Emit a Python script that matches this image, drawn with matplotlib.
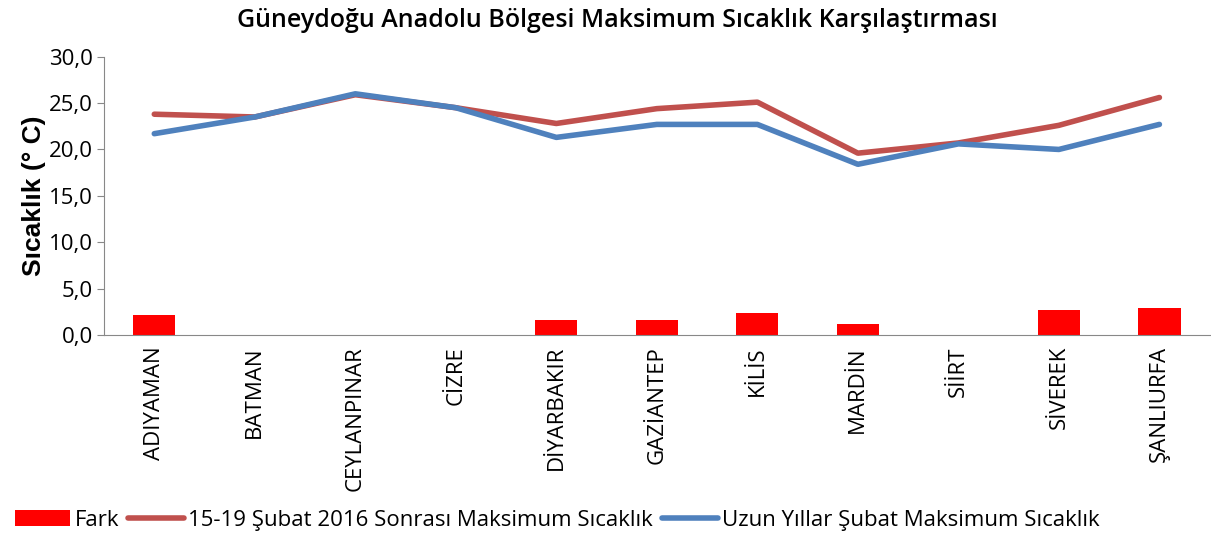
import matplotlib
matplotlib.use("Agg")
import matplotlib.pyplot as plt
import numpy as np

plt.rcParams['font.family'] = ['Open Sans', 'DejaVu Sans']

categories = ["ADIYAMAN", "BATMAN", "CEYLANPINAR", "CİZRE", "DİYARBAKIR", "GAZİANTEP",
              "KİLİS", "MARDİN", "SİİRT", "SİVEREK", "ŞANLIURFA"]
fark = [2.1, np.nan, np.nan, np.nan, 1.6, 1.6, 2.4, 1.2, np.nan, 2.7, 2.9]
sonrasi = [23.8, 23.5, 25.9, 24.5, 22.8, 24.4, 25.1, 19.6, 20.7, 22.6, 25.6]
uzun = [21.7, 23.5, 26.0, 24.5, 21.3, 22.7, 22.7, 18.4, 20.6, 20.0, 22.7]
yticks = [0, 5, 10, 15, 20, 25, 30]

fig = plt.figure(figsize=(12.11, 5.35), dpi=100)
ax = fig.add_axes([0.0859, 0.374, 0.913, 0.52])
x = np.arange(len(categories))
b = ax.bar(x, fark, width=0.42, color="#FF0000", label="Fark", zorder=2)
l1, = ax.plot(x, sonrasi, color="#C0504D", lw=4, label="15-19 Şubat 2016 Sonrası Maksimum Sıcaklık", zorder=3,
              solid_capstyle='round')
l2, = ax.plot(x, uzun, color="#4F81BD", lw=4, label="Uzun Yıllar Şubat Maksimum Sıcaklık", zorder=4,
              solid_capstyle='round')

ax.set_xlim(-0.5, len(categories) - 0.5)
ax.set_ylim(0, 30)
ax.set_yticks(yticks)
ax.set_yticklabels([f"{v:.1f}".replace(".", ",") for v in yticks], fontsize=16)
ax.set_xticks(x)
ax.set_xticklabels(categories, rotation=90, fontsize=16)
ax.tick_params(axis='x', length=0, pad=8)
ax.tick_params(axis='y', length=5, color="#888888", direction='out', pad=3)
for s in ["top", "right"]:
    ax.spines[s].set_visible(False)
for s in ["left", "bottom"]:
    ax.spines[s].set_color("#888888")
ax.set_ylabel("Sıcaklık (° C)", fontsize=19, fontweight='bold', family=['Liberation Sans', 'DejaVu Sans'], labelpad=2)

fig.text(0.51, 0.962, "Güneydoğu Anadolu Bölgesi Maksimum Sıcaklık Karşılaştırması", ha='center', va='center',
         fontsize=18, fontweight='semibold')

fig.legend([b, l1, l2], [b.get_label(), l1.get_label(), l2.get_label()],
           loc='center left', bbox_to_anchor=(0.005, 0.028), ncol=3, frameon=False, fontsize=16,
           handlelength=2.5, handletextpad=0.2, columnspacing=0.4, borderaxespad=0)

fig.savefig("out.png", dpi=100)
